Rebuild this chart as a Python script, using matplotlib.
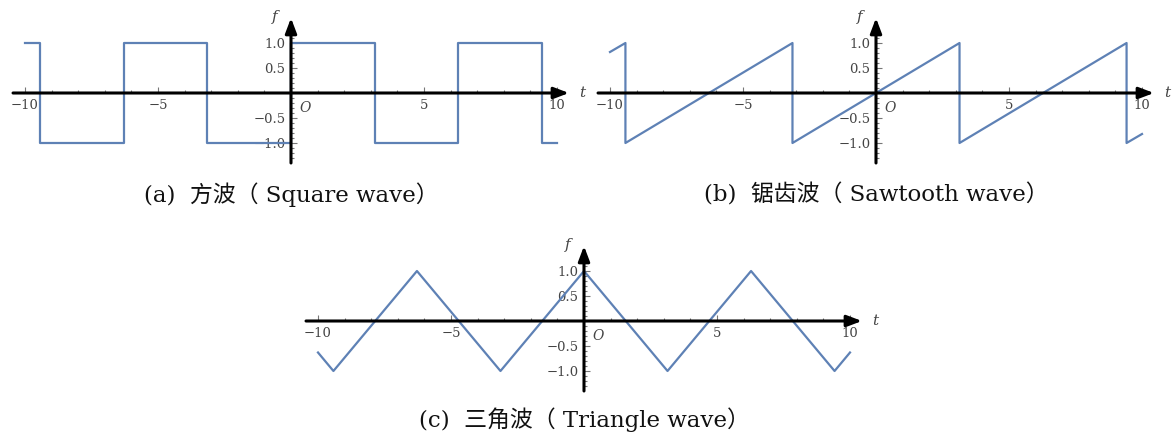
import numpy as np
import matplotlib
matplotlib.use('Agg')
import matplotlib.pyplot as plt
from matplotlib.ticker import MultipleLocator, FixedLocator

# wave vertices (t, f)
square_t = [-10, -9.42, -9.42, -6.28, -6.28, -3.14, -3.14, 0, 0, 3.14, 3.14, 6.28, 6.28, 9.42, 9.42, 10]
square_f = [1, 1, -1, -1, 1, 1, -1, -1, 1, 1, -1, -1, 1, 1, -1, -1]

saw_t = [-10, -9.42, -9.42, -3.14, -3.14, 3.14, 3.14, 9.42, 9.42, 10]
saw_f = [0.82, 1, -1, 1, -1, 1, -1, 1, -1, -0.82]

tri_t = [-10, -9.42, -6.28, -3.14, 0, 3.14, 6.28, 9.42, 10]
tri_f = [-0.63, -1, 1, -1, 1, -1, 1, -1, -0.63]

xticks = [-10, -5, 5, 10]
xticklabels = ['\u221210', '\u22125', '5', '10']
yticks = [1.0, 0.5, -0.5, -1.0]
yticklabels = ['1.0', '0.5', '\u22120.5', '\u22121.0']

captions = ['(a)  方波（ Square wave）',
            '(b)  锯齿波（ Sawtooth wave）',
            '(c)  三角波（ Triangle wave）']

W, H = 1174, 432
XMIN, XMAX = -10.45, 10.45
YMIN, YMAX = -1.4, 1.5
SX, SY = 26.6, 50.0
LINE_C = '#5E81B5'
TXT_C = '#444444'
serif = ['DejaVu Serif']
cap_font = ['DejaVu Serif', 'Noto Sans CJK SC']

fig = plt.figure(figsize=(W / 100, H / 100), dpi=100)


def make_axes(x0, y0):
    # x0, y0: pixel position of the origin (from the top-left corner)
    left = x0 + XMIN * SX
    right = x0 + XMAX * SX
    top = y0 - YMAX * SY
    bottom = y0 - YMIN * SY
    ax = fig.add_axes([left / W, 1 - bottom / H, (right - left) / W, (bottom - top) / H])
    ax.set_xlim(XMIN, XMAX)
    ax.set_ylim(YMIN, YMAX)
    ax.patch.set_alpha(0)
    for s in ['top', 'right']:
        ax.spines[s].set_visible(False)
    for s in ['left', 'bottom']:
        ax.spines[s].set_position(('data', 0))
        ax.spines[s].set_linewidth(0)
    ax.set_xticks(xticks, xticklabels)
    ax.set_yticks(yticks, yticklabels)
    ax.xaxis.set_minor_locator(MultipleLocator(1))
    ax.yaxis.set_minor_locator(FixedLocator(np.arange(-13, 14) / 10))
    ax.tick_params(which='both', direction='in', color='#777777', width=0.8,
                   labelsize=9.5, labelcolor=TXT_C, pad=4)
    ax.tick_params(which='major', length=4)
    ax.tick_params(which='minor', length=2)
    for lab in ax.get_xticklabels() + ax.get_yticklabels():
        lab.set_family(serif)
    # axes with arrowheads
    arrow = dict(arrowstyle='-|>,head_length=0.45,head_width=0.17', color='k',
                 lw=2.2, mutation_scale=20, shrinkA=0, shrinkB=0)
    ax.annotate('', xy=(XMAX, 0), xytext=(XMIN, 0), arrowprops=arrow,
                annotation_clip=False, zorder=4)
    ax.annotate('', xy=(0, YMAX), xytext=(0, YMIN), arrowprops=arrow,
                annotation_clip=False, zorder=4)
    ax.text(XMAX + 0.4, 0, 't', family=serif, style='italic', fontsize=11,
            color=TXT_C, ha='left', va='center', clip_on=False)
    ax.text(-0.5, YMAX + 0.02, 'f', family=serif, style='italic', fontsize=11,
            color=TXT_C, ha='right', va='center', clip_on=False)
    ax.text(0.3, -0.3, 'O', family=serif, style='italic', fontsize=10,
            color=TXT_C, ha='left', va='center', clip_on=False)
    return ax


ax_a = make_axes(291, 93)
ax_a.plot(square_t, square_f, color=LINE_C, lw=1.6, zorder=3)

ax_b = make_axes(876, 93)
ax_b.plot(saw_t, saw_f, color=LINE_C, lw=1.6, zorder=3)

ax_c = make_axes(584, 321)
ax_c.plot(tri_t, tri_f, color=LINE_C, lw=1.6, zorder=3)

for (cx, cy), cap in zip([(291, 195), (876, 195), (584, 420)], captions):
    fig.text(cx / W, 1 - cy / H, cap, family=cap_font, fontsize=16.5,
             color='#111111', ha='center', va='center')

fig.savefig('out.png', dpi=100)
